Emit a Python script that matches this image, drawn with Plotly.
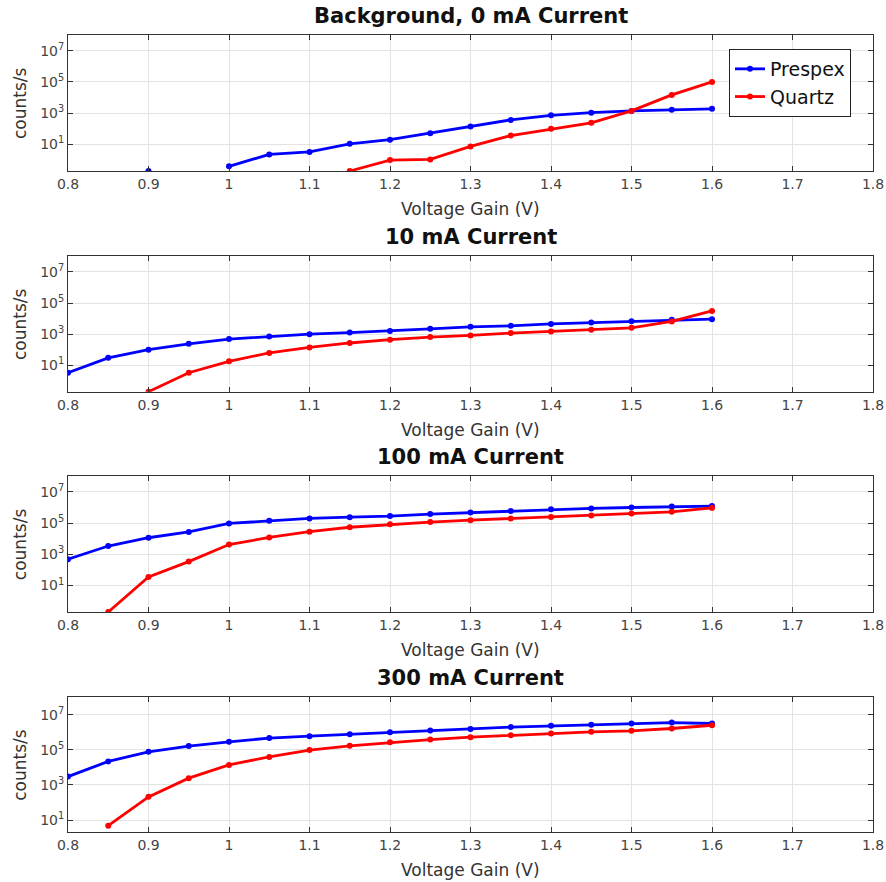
import plotly.graph_objects as go

voltage = [0.8, 0.85, 0.9, 0.95, 1.0, 1.05, 1.1, 1.15, 1.2, 1.25, 1.3, 1.35, 1.4, 1.45, 1.5, 1.55, 1.6]

titles = ["Background, 0 mA Current", "10 mA Current", "100 mA Current", "300 mA Current"]
series_names = ["Prespex", "Quartz"]

prespex_0mA = [None, None, 0.2, None, 0.4, 2.3, 3.3, 11, 20, 52, 138, 370, 730, 1070, 1400, 1660, 1900]
quartz_0mA = [None, None, None, None, None, None, None, 0.2, 1.0, 1.1, 7.5, 37, 99, 240, 1400, 14700, 100000]

prespex_10mA = [3.3, 30, 100, 240, 480, 700, 1000, 1260, 1600, 2200, 2950, 3400, 4550, 5500, 6700, 8300, 9100]
quartz_10mA = [None, None, 0.2, 3.3, 18, 62, 140, 270, 440, 650, 820, 1170, 1480, 1900, 2550, 6500, 31000]

prespex_100mA = [480, 3400, 11500, 27000, 95000, 140000, 200000, 240000, 280000, 380000, 480000, 590000, 760000, 870000, 1.0e6, 1.17e6, 1.23e6]
quartz_100mA = [None, 0.2, 35, 340, 4200, 12000, 28000, 54000, 83000, 117000, 155000, 200000, 250000, 310000, 420000, 530000, 950000]

prespex_300mA = [3000, 22000, 78000, 165000, 290000, 470000, 610000, 790000, 1.0e6, 1.28e6, 1.58e6, 2.0e6, 2.35e6, 2.7e6, 3.2e6, 3.6e6, 3.2e6]
quartz_300mA = [None, 4.8, 210, 2450, 14000, 40000, 98000, 170000, 270000, 390000, 530000, 690000, 850000, 1.07e6, 1.22e6, 1.66e6, 2.55e6]

ytick_vals = [10, 1000, 1e5, 1e7]
ytick_text = ["10<sup>1</sup>", "10<sup>3</sup>", "10<sup>5</sup>", "10<sup>7</sup>"]
xtick_vals = [0.8, 0.9, 1.0, 1.1, 1.2, 1.3, 1.4, 1.5, 1.6, 1.7, 1.8]
xtick_text = ["0.8", "0.9", "1", "1.1", "1.2", "1.3", "1.4", "1.5", "1.6", "1.7", "1.8"]

panels = [
    (prespex_0mA, quartz_0mA),
    (prespex_10mA, quartz_10mA),
    (prespex_100mA, quartz_100mA),
    (prespex_300mA, quartz_300mA),
]

W, H = 886, 882
x_px = (68, 873)
y_px = [(35, 171), (256.3, 391.7), (476.3, 612), (697.3, 832.3)]
y_ranges = [(-0.699, 8), (-0.699, 8), (-0.699, 8), (0.301, 8)]
colors = ["#0000ff", "#ff0000"]
font_family = "DejaVu Sans"

fig = go.Figure()
annotations = []
for i, (pvals, qvals) in enumerate(panels):
    n = "" if i == 0 else str(i + 1)
    for j, vals in enumerate((pvals, qvals)):
        fig.add_trace(go.Scatter(
            x=voltage, y=vals, mode="lines+markers",
            name=series_names[j], showlegend=(i == 0),
            line=dict(color=colors[j], width=2.8),
            marker=dict(color=colors[j], size=6),
            xaxis="x" + n, yaxis="y" + n,
        ))
    top, bot = y_px[i]
    dom = [1 - bot / H, 1 - top / H]
    fig.layout["xaxis" + n] = dict(
        domain=[x_px[0] / W, x_px[1] / W], anchor="y" + n, range=[0.8, 1.8],
        tickvals=xtick_vals, ticktext=xtick_text, ticks="inside", ticklen=5,
        tickcolor="#333", showline=True, linecolor="#333", linewidth=1,
        mirror="allticks", showgrid=True, gridcolor="#e3e3e3", zeroline=False,
        tickfont=dict(family=font_family, size=14, color="#444"),
        automargin=False,
    )
    fig.layout["yaxis" + n] = dict(
        domain=dom, anchor="x" + n, type="log", range=list(y_ranges[i]),
        tickvals=ytick_vals, ticktext=ytick_text, ticks="inside", ticklen=5,
        tickcolor="#333", showline=True, linecolor="#333", linewidth=1,
        mirror="allticks", showgrid=True, gridcolor="#e3e3e3", zeroline=False,
        tickfont=dict(family=font_family, size=14, color="#444"),
        automargin=False,
    )
    annotations.append(dict(
        text="<b>" + titles[i] + "</b>", xref="paper", yref="paper",
        x=(x_px[0] + x_px[1]) / 2 / W, y=1 - (top - 19) / H,
        xanchor="center", yanchor="middle", showarrow=False,
        font=dict(family=font_family, size=21, color="#111"),
    ))
    annotations.append(dict(
        text="Voltage Gain (V)", xref="paper", yref="paper",
        x=(x_px[0] + x_px[1]) / 2 / W, y=1 - (bot + 38) / H,
        xanchor="center", yanchor="middle", showarrow=False,
        font=dict(family=font_family, size=17, color="#333"),
    ))
    annotations.append(dict(
        text="counts/s", xref="paper", yref="paper",
        x=20 / W, y=1 - (top + bot) / 2 / H, textangle=-90,
        xanchor="center", yanchor="middle", showarrow=False,
        font=dict(family=font_family, size=17, color="#333"),
    ))

fig.update_layout(
    width=W, height=H,
    margin=dict(l=0, r=0, t=0, b=0),
    paper_bgcolor="white", plot_bgcolor="white",
    annotations=annotations,
    legend=dict(
        x=729 / W, y=1 - 49 / H, xanchor="left", yanchor="top",
        bgcolor="white", bordercolor="#222", borderwidth=1,
        font=dict(family=font_family, size=19, color="#111"),
        tracegroupgap=0, itemwidth=30,
    ),
)

fig.write_html("out.html", config={"displayModeBar": False},
               post_script="document.body.style.margin='0';document.body.style.overflow='hidden';")
